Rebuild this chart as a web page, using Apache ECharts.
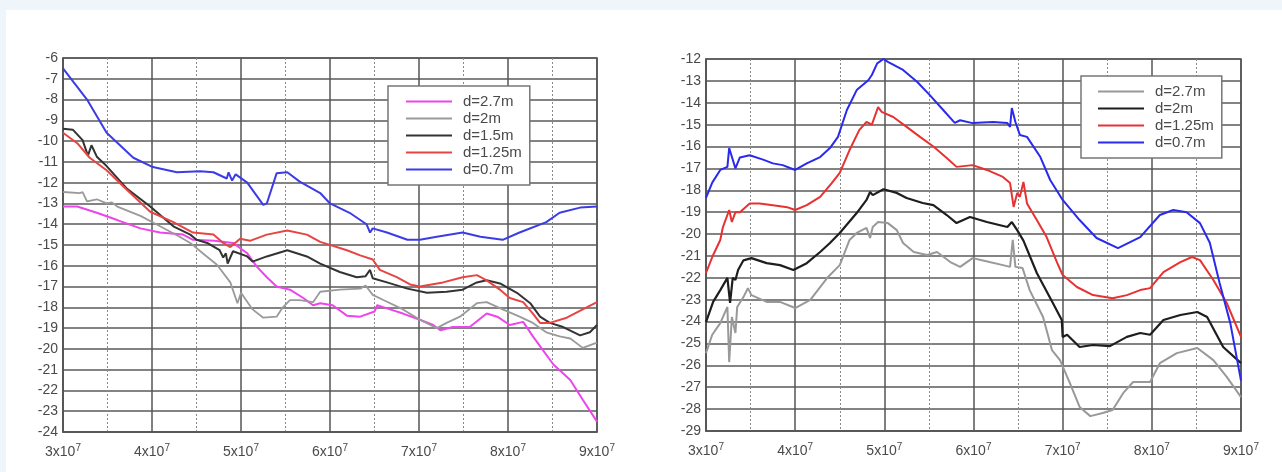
<!DOCTYPE html>
<html>
<head>
<meta charset="utf-8">
<script src="https://cdn.jsdelivr.net/npm/echarts@6/dist/echarts.min.js"></script>
<style>
html,body{margin:0;padding:0;width:1282px;height:472px;overflow:hidden;background:#eef6fb;}
#panel{position:absolute;left:6px;top:10px;width:1276px;height:462px;background:#fff;}
#c1{position:absolute;left:0;top:0;width:640px;height:472px;}
#c2{position:absolute;left:640px;top:0;width:642px;height:472px;}
</style>
</head>
<body>
<div id="panel"></div>
<div id="c1"></div>
<div id="c2"></div>
<script>
// x values in units of 10^7 Hz
const xTicks = [3, 4, 5, 6, 7, 8, 9];

// ---------- Left chart ----------
const L_names = ['d=2.7m', 'd=2m', 'd=1.5m', 'd=1.25m', 'd=0.7m'];
const L_colors = ['#ee44ee', '#9a9a9a', '#333333', '#e84444', '#3c3ce6'];

const L_d27 = [[3.0,-13.15],[3.16,-13.15],[3.38,-13.45],[3.61,-13.8],[3.87,-14.2],[4.09,-14.4],[4.35,-14.5],[4.46,-14.75],[4.7,-14.8],[4.91,-14.9],[5.07,-15.4],[5.18,-16.05],[5.29,-16.55],[5.4,-17.0],[5.55,-17.15],[5.7,-17.55],[5.81,-17.9],[5.89,-17.8],[6.03,-17.9],[6.19,-18.4],[6.34,-18.45],[6.5,-18.2],[6.53,-17.9],[6.64,-18.05],[6.82,-18.3],[7.01,-18.6],[7.16,-18.85],[7.24,-19.1],[7.38,-18.95],[7.57,-18.95],[7.76,-18.3],[7.88,-18.45],[8.02,-18.85],[8.17,-18.7],[8.28,-19.4],[8.39,-20.05],[8.51,-20.75],[8.7,-21.5],[8.84,-22.45],[9.0,-23.5]];
const L_d2 = [[3.0,-12.45],[3.19,-12.5],[3.22,-12.45],[3.27,-12.9],[3.38,-12.8],[3.49,-13.0],[3.55,-12.95],[3.61,-13.15],[3.87,-13.6],[4.09,-14.1],[4.31,-14.6],[4.43,-14.9],[4.57,-15.4],[4.73,-15.95],[4.88,-16.8],[4.96,-17.8],[5.0,-17.3],[5.13,-18.1],[5.25,-18.5],[5.4,-18.45],[5.47,-18.0],[5.55,-17.65],[5.66,-17.65],[5.81,-17.75],[5.89,-17.25],[6.11,-17.15],[6.34,-17.1],[6.4,-16.95],[6.48,-17.4],[6.6,-17.65],[6.82,-18.1],[7.01,-18.6],[7.2,-19.0],[7.31,-18.75],[7.46,-18.45],[7.65,-17.8],[7.76,-17.75],[7.94,-18.1],[8.13,-18.45],[8.28,-18.75],[8.43,-19.2],[8.58,-19.4],[8.7,-19.5],[8.84,-19.95],[9.0,-19.7]];
const L_d15 = [[3.0,-9.4],[3.11,-9.45],[3.22,-9.95],[3.28,-10.7],[3.32,-10.2],[3.38,-10.75],[3.49,-11.2],[3.72,-12.3],[3.98,-13.15],[4.24,-14.1],[4.43,-14.5],[4.5,-14.75],[4.62,-14.9],[4.76,-15.25],[4.8,-15.6],[4.83,-15.4],[4.85,-15.9],[4.91,-15.3],[5.07,-15.55],[5.13,-15.8],[5.29,-15.55],[5.52,-15.25],[5.74,-15.55],[5.89,-15.9],[6.11,-16.3],[6.3,-16.55],[6.4,-16.5],[6.45,-16.2],[6.48,-16.6],[6.64,-16.8],[6.87,-17.1],[7.09,-17.3],[7.31,-17.25],[7.49,-17.15],[7.65,-16.8],[7.76,-16.7],[7.91,-16.85],[8.1,-17.3],[8.25,-17.8],[8.36,-18.45],[8.47,-18.75],[8.62,-18.95],[8.81,-19.35],[8.92,-19.2],[9.0,-18.85]];
const L_d125 = [[3.0,-9.6],[3.16,-10.1],[3.3,-10.8],[3.49,-11.4],[3.72,-12.35],[3.98,-13.4],[4.24,-13.9],[4.46,-14.4],[4.69,-14.5],[4.8,-14.9],[4.88,-15.1],[4.99,-14.7],[5.1,-14.8],[5.29,-14.5],[5.52,-14.3],[5.74,-14.5],[5.89,-14.85],[6.19,-15.25],[6.34,-15.5],[6.48,-15.7],[6.56,-16.2],[6.75,-16.55],[6.9,-16.9],[7.01,-17.0],[7.27,-16.8],[7.49,-16.55],[7.65,-16.45],[7.76,-16.7],[7.91,-17.15],[8.02,-17.55],[8.17,-17.75],[8.28,-18.3],[8.36,-18.75],[8.47,-18.75],[8.66,-18.5],[8.84,-18.1],[9.0,-17.75]];
const L_d07 = [[3.0,-6.5],[3.27,-8.0],[3.49,-9.6],[3.79,-10.8],[4.01,-11.25],[4.28,-11.5],[4.54,-11.45],[4.69,-11.5],[4.84,-11.8],[4.86,-11.5],[4.9,-11.9],[4.94,-11.6],[5.07,-12.0],[5.25,-13.07],[5.29,-13.0],[5.4,-11.55],[5.52,-11.5],[5.66,-11.95],[5.89,-12.5],[6.0,-13.0],[6.22,-13.45],[6.41,-14.0],[6.45,-14.4],[6.48,-14.2],[6.64,-14.4],[6.87,-14.75],[7.01,-14.75],[7.2,-14.6],[7.49,-14.4],[7.69,-14.6],[7.94,-14.75],[8.13,-14.4],[8.43,-13.9],[8.58,-13.45],[8.81,-13.2],[9.0,-13.15]];
const L_series = [L_d27, L_d2, L_d15, L_d125, L_d07];
const L_yTicks = {min: -24, max: -6};

// ---------- Right chart ----------
const R_names = ['d=2.7m', 'd=2m', 'd=1.25m', 'd=0.7m'];
const R_colors = ['#999999', '#1e1e1e', '#e83232', '#2a2aee'];

const R_d27 = [[3.0,-25.44],[3.07,-24.6],[3.16,-24.07],[3.24,-23.33],[3.26,-25.85],[3.29,-23.79],[3.33,-24.52],[3.35,-23.33],[3.42,-22.88],[3.47,-22.47],[3.51,-22.79],[3.68,-23.1],[3.83,-23.1],[4.0,-23.38],[4.17,-23.01],[4.36,-22.0],[4.5,-21.42],[4.61,-20.27],[4.69,-19.95],[4.8,-19.72],[4.84,-20.18],[4.87,-19.68],[4.93,-19.45],[5.04,-19.5],[5.14,-19.82],[5.21,-20.41],[5.33,-20.82],[5.48,-20.96],[5.59,-20.82],[5.74,-21.28],[5.85,-21.5],[5.99,-21.1],[6.18,-21.28],[6.33,-21.42],[6.41,-21.5],[6.44,-20.27],[6.47,-21.5],[6.55,-21.55],[6.63,-22.56],[6.78,-23.79],[6.88,-25.3],[6.97,-25.76],[7.08,-26.8],[7.19,-27.9],[7.31,-28.32],[7.45,-28.18],[7.56,-28.04],[7.68,-27.26],[7.79,-26.76],[7.98,-26.76],[8.09,-25.9],[8.28,-25.44],[8.51,-25.21],[8.69,-25.76],[8.84,-26.53],[9.0,-27.45]];
const R_d2 = [[3.0,-24.02],[3.08,-23.1],[3.16,-22.56],[3.24,-22.0],[3.27,-23.15],[3.3,-22.0],[3.33,-22.1],[3.36,-21.64],[3.42,-21.2],[3.51,-21.1],[3.68,-21.33],[3.83,-21.42],[3.98,-21.64],[4.13,-21.33],[4.28,-20.82],[4.39,-20.41],[4.5,-19.95],[4.69,-19.04],[4.8,-18.44],[4.84,-18.08],[4.87,-18.22],[4.99,-17.95],[5.14,-18.12],[5.25,-18.35],[5.43,-18.58],[5.55,-18.68],[5.7,-19.13],[5.81,-19.5],[5.96,-19.22],[6.15,-19.45],[6.38,-19.68],[6.43,-19.45],[6.49,-19.82],[6.56,-20.3],[6.71,-21.78],[6.89,-23.15],[6.99,-23.93],[7.0,-24.7],[7.05,-24.6],[7.19,-25.16],[7.34,-25.07],[7.53,-25.12],[7.72,-24.7],[7.87,-24.52],[7.98,-24.6],[8.13,-23.93],[8.32,-23.7],[8.51,-23.56],[8.62,-23.79],[8.8,-25.16],[9.0,-25.9]];
const R_d125 = [[3.0,-21.78],[3.07,-21.05],[3.16,-20.27],[3.19,-19.68],[3.26,-18.9],[3.29,-19.45],[3.33,-19.0],[3.38,-19.0],[3.49,-18.6],[3.6,-18.6],[3.75,-18.68],[3.91,-18.77],[4.0,-18.9],[4.13,-18.68],[4.28,-18.3],[4.41,-17.67],[4.5,-17.2],[4.61,-16.16],[4.72,-15.24],[4.8,-14.88],[4.86,-15.0],[4.93,-14.2],[4.97,-14.42],[5.1,-14.65],[5.25,-15.1],[5.4,-15.56],[5.55,-16.0],[5.7,-16.52],[5.81,-16.93],[5.99,-16.85],[6.15,-17.07],[6.33,-17.39],[6.41,-17.67],[6.45,-18.76],[6.49,-18.12],[6.52,-18.3],[6.56,-17.62],[6.6,-18.6],[6.71,-19.36],[6.82,-20.14],[6.94,-21.33],[7.0,-21.87],[7.16,-22.42],[7.34,-22.79],[7.56,-22.93],[7.72,-22.79],[7.87,-22.56],[7.98,-22.47],[8.13,-21.74],[8.32,-21.28],[8.45,-21.05],[8.54,-21.19],[8.69,-22.1],[8.84,-23.15],[9.0,-24.7]];
const R_d07 = [[3.0,-18.35],[3.07,-17.65],[3.16,-17.07],[3.24,-16.93],[3.26,-16.07],[3.33,-17.0],[3.38,-16.5],[3.49,-16.4],[3.64,-16.6],[3.75,-16.77],[3.86,-16.85],[4.0,-17.07],[4.13,-16.77],[4.28,-16.48],[4.39,-16.07],[4.48,-15.56],[4.58,-14.33],[4.69,-13.42],[4.82,-12.97],[4.86,-12.73],[4.92,-12.2],[4.99,-12.0],[5.04,-12.13],[5.21,-12.5],[5.37,-13.05],[5.51,-13.65],[5.66,-14.33],[5.79,-14.92],[5.85,-14.8],[5.99,-14.93],[6.22,-14.88],[6.38,-14.93],[6.41,-15.1],[6.43,-14.24],[6.47,-14.88],[6.52,-15.47],[6.6,-15.56],[6.75,-16.48],[6.86,-17.53],[7.0,-18.44],[7.19,-19.36],[7.38,-20.18],[7.62,-20.64],[7.87,-20.14],[8.09,-19.13],[8.24,-18.9],[8.39,-19.0],[8.54,-19.5],[8.65,-20.4],[8.76,-22.24],[8.88,-24.07],[9.0,-26.7]];
const R_series = [R_d27, R_d2, R_d125, R_d07];
const R_yTicks = {min: -29, max: -12};

const FONT = 'Liberation Sans, Arial, sans-serif';
const TXT = '#4a4a4a';

function makeOption(names, colors, data, yr, grid, legendPos, widths) {
  return {
    animation: false,
    grid: Object.assign({show: true, borderColor: '#555', borderWidth: 1.5, backgroundColor: 'transparent'}, grid),
    legend: Object.assign({
      orient: 'vertical',
      data: names,
      itemWidth: 46, itemHeight: 14, itemGap: 0,
      backgroundColor: '#fff',
      borderColor: '#777', borderWidth: 1.5,
      borderRadius: 0,
      selectedMode: false,
      itemStyle: {opacity: 0},
      textStyle: {fontFamily: FONT, fontSize: 15, lineHeight: 17, color: TXT, padding: [0, 0, 0, 6]}
    }, legendPos),
    xAxis: {
      type: 'value', min: 3, max: 9, interval: 1,
      axisLine: {show: true, lineStyle: {color: '#555', width: 1.5}},
      axisTick: {show: false},
      axisLabel: {
        margin: 11,
        formatter: v => '{b|' + v + 'x10}{s|7}',
        rich: {
          b: {fontFamily: FONT, fontSize: 14, color: TXT, lineHeight: 18},
          s: {fontFamily: FONT, fontSize: 10, color: TXT, verticalAlign: 'top', lineHeight: 10}
        }
      },
      splitLine: {show: true, lineStyle: {color: '#555', width: 1.5}},
      minorTick: {show: false, splitNumber: 2},
      minorSplitLine: {show: true, lineStyle: {color: '#888', width: 1, type: [2, 2]}}
    },
    yAxis: {
      type: 'value', min: yr.min, max: yr.max, interval: 1,
      axisLine: {show: true, lineStyle: {color: '#555', width: 1.5}},
      axisTick: {show: false},
      axisLabel: {margin: 5, fontFamily: FONT, fontSize: 14, color: TXT},
      splitLine: {show: true, lineStyle: {color: '#5a5a5a', width: 1.5}}
    },
    series: data.map((d, i) => ({
      name: names[i],
      type: 'line',
      data: d,
      showSymbol: false,
      symbol: 'none',
      smooth: false,
      color: colors[i],
      lineStyle: {color: colors[i], width: widths[i]},
      z: 3 + i
    }))
  };
}

const c1 = echarts.init(document.getElementById('c1'), null, {renderer: 'canvas'});
c1.setOption(makeOption(L_names, L_colors, L_series, L_yTicks,
  {left: 63, top: 58, width: 534, height: 374},
  {left: 388, top: 86, padding: [7, 8, 7, 17]},
  [2, 1.8, 2, 2, 2]));

const c2 = echarts.init(document.getElementById('c2'), null, {renderer: 'canvas'});
c2.setOption(makeOption(R_names, R_colors, R_series, R_yTicks,
  {left: 66, top: 59, width: 535, height: 372},
  {left: 441, top: 76, padding: [7, 8, 7, 16]},
  [2, 2.2, 2, 2]));
</script>
</body>
</html>
